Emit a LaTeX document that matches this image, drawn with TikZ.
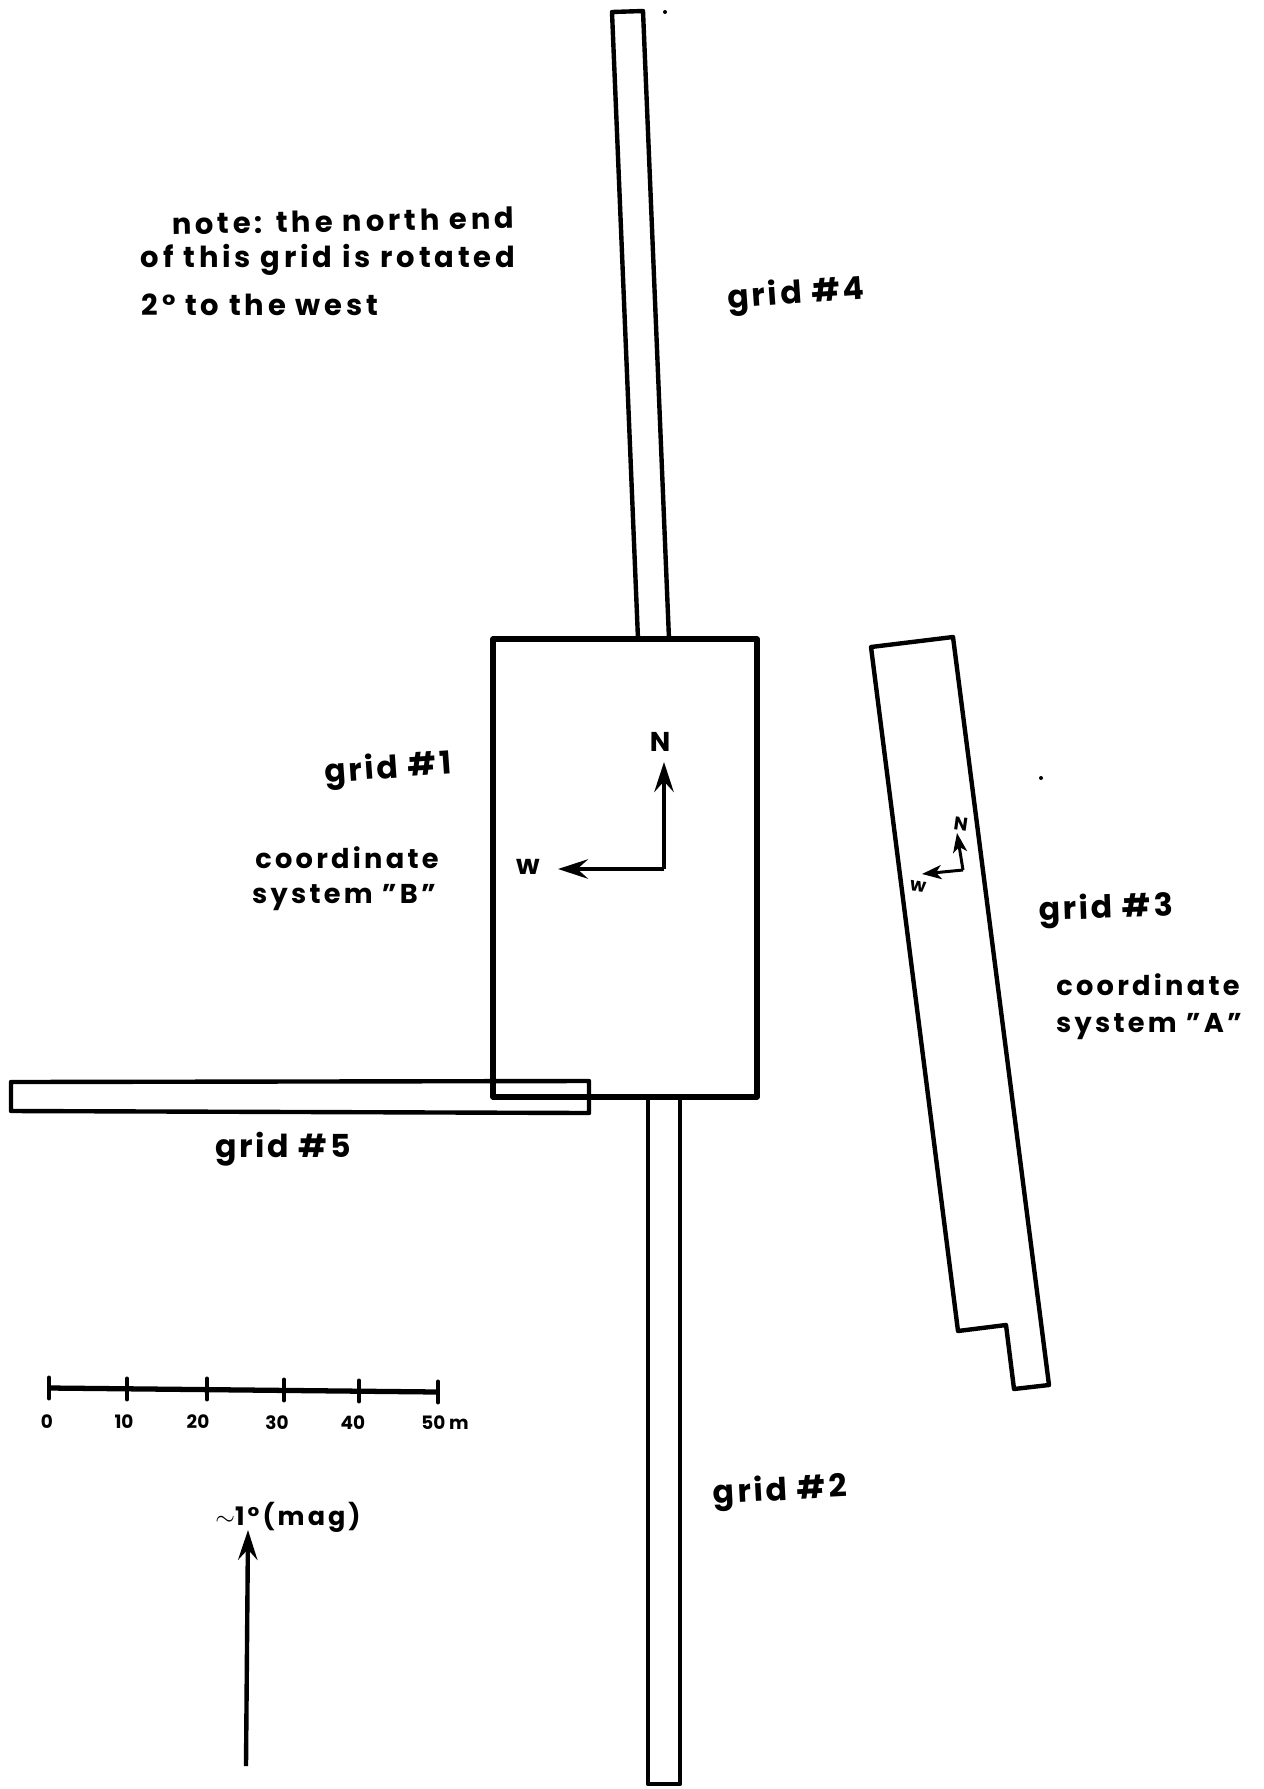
\documentclass[tikz,border=0pt]{standalone}
\usepackage{fontspec}
\setmainfont{Poppins}
\usetikzlibrary{arrows.meta}
\tikzset{
  grband/.style={line width=2.5pt, draw=black, line join=round},
  grbold/.style={line width=3pt, draw=black, line join=round},
  grthin/.style={line width=2.2pt, draw=black, line cap=round},
  grarrow/.style={line width=2.5pt, draw=black, -{Stealth[length=17pt,width=11pt,inset=6pt]}},
  grsmall/.style={line width=1.7pt, draw=black, -{Stealth[length=11pt,width=8pt,inset=3pt]}},
  grlabel/.style={font=\fontsize{18}{18}\selectfont\bfseries\addfontfeature{LetterSpace=9}, inner sep=0pt},
  grnote/.style={font=\fontsize{16.5}{17}\selectfont\bfseries\addfontfeature{LetterSpace=13}, inner sep=0pt},
  grcoord/.style={font=\fontsize{15.5}{16}\selectfont\bfseries\addfontfeature{LetterSpace=12}, inner sep=0pt},
  grtick/.style={font=\fontsize{10.5}{11}\selectfont\bfseries, inner sep=0pt},
  grspeck/.style={fill=black, draw=none},
}

\begin{document}
\begin{tikzpicture}[x=0.02cm, y=-0.02cm]
\useasboundingbox (0,0) rectangle (1264,1789);
% grid outlines
\draw[grband] (638,639) -- (612,12) -- (643,11) -- (669,639);
\draw[grbold] (493,639) rectangle (757,1097);
\draw[grband] (648,1097) -- (648,1784) -- (680,1784) -- (680,1097);
\draw[grband] (11,1082) -- (589,1081) -- (589,1113) -- (11,1111) -- cycle;
\draw[grband] (871,647) -- (953,637) -- (1049,1385) -- (1014,1389) -- (1006,1325) -- (958,1331) -- cycle;
% axes of system B
\coordinate (bcorner) at (664,869);
\coordinate (bnorth) at (664,762);
\coordinate (bwest) at (558,869);
\draw[grarrow] (bcorner) -- (bnorth);
\draw[grarrow] (bcorner) -- (bwest);
\node[grcoord] (blabn) at (660,742) {N};
\node[grcoord] (blabw) at (528,867) {w};
% axes of system A
\coordinate (acorner) at (963,870);
\coordinate (anorth) at (957,833);
\coordinate (awest) at (922,874);
\draw[grsmall] (acorner) -- (anorth);
\draw[grsmall] (acorner) -- (awest);
\node[grtick, rotate=-8] (alabn) at (961,824) {N};
\node[grtick, rotate=-8] (alabw) at (918,887) {w};
% labels
\node[grnote, rotate=1] (note1) at (343,221) {note: the north end};
\node[grnote] (note2) at (328,260) {of this grid is rotated};
\node[grnote] (note3) at (260,305) {2° to the west};
\node[grlabel, rotate=4] (grid4) at (796,295) {grid \#4};
\node[grlabel, rotate=4] (grid1) at (388,770) {grid \#1};
\node[grlabel, rotate=2] (grid3) at (1106,910) {grid \#3};
\node[grlabel] (grid5) at (283,1149) {grid \#5};
\node[grlabel, rotate=3] (grid2) at (780,1492) {grid \#2};
\node[grcoord] (coordb) at (347,858) {coordinate};
\node[grcoord] (sysb) at (344,898) {system "B"};
\node[grcoord] (coorda) at (1148,985) {coordinate};
\node[grcoord] (sysa) at (1149,1027) {system "A"};
% scale bar
\coordinate (s0) at (49,1388);
\coordinate (s1) at (127,1389);
\coordinate (s2) at (207,1389);
\coordinate (s3) at (284,1390);
\coordinate (s4) at (359,1391);
\coordinate (s5) at (438,1392);
\draw[grbold] (s0) -- (s5);
\foreach \tk in {s0,s1,s2,s3,s4,s5}
  \draw[grthin] ([yshift=-6pt]\tk) -- ([yshift=6pt]\tk);
\node[grtick] (t0) at (47,1422) {0};
\node[grtick] (t1) at (124,1422) {10};
\node[grtick] (t2) at (198,1422) {20};
\node[grtick] (t3) at (277,1423) {30};
\node[grtick] (t4) at (353,1423) {40};
\node[grtick] (t5) at (445,1423) {50 m};
% magnetic north
\coordinate (mfoot) at (246,1766);
\coordinate (mtip) at (248,1530);
\draw[grarrow] (mfoot) -- (mtip);
\node[grcoord] (mlab) at (288,1517) {\fontsize{14.5}{15}\selectfont$\sim$1°(mag)};
% specks of the scan
\fill[grspeck] (665,12) circle (2);
\fill[grspeck] (1041,778) circle (2);
\end{tikzpicture}
\end{document}
